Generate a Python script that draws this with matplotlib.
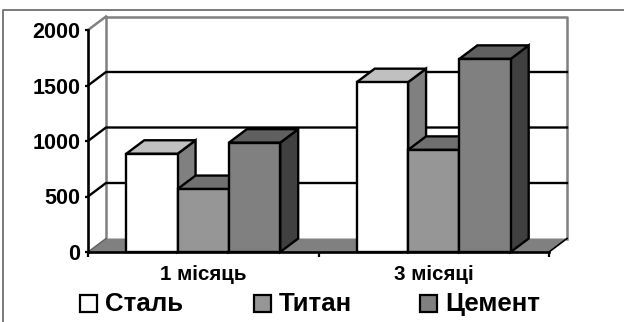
import matplotlib
matplotlib.use('Agg')
import matplotlib.pyplot as plt
from matplotlib.patches import Rectangle

plt.rcParams['font.family'] = ['Liberation Sans', 'DejaVu Sans']
plt.rcParams['font.weight'] = 'bold'

categories = ['1 місяць', '3 місяці']
series = ['Сталь', 'Титан', 'Цемент']
stal = [885, 1530]
titan = [567, 920]
cement = [985, 1740]
y_ticks = [0, 500, 1000, 1500, 2000]

front = ['#ffffff', '#969696', '#808080']
top = ['#c0c0c0', '#707070', '#606060']
side = ['#808080', '#606060', '#404040']

W, H = 624, 322
fig = plt.figure(figsize=(W / 100, H / 100), dpi=100)
ax = fig.add_axes([88 / W, 1 - 252 / H, 461 / W, 222 / H])
ax.set_xlim(0, len(categories))
ax.set_ylim(0, 2000)
ax.patch.set_visible(False)
for s in ax.spines.values():
    s.set_visible(False)

# depth of the fake 3d box, in data units
dx = 18 / 461 * 2
dy = 13.5 / 222 * 2000
bar_w = 0.2226
lw = 1.7

# floor and walls
ax.fill([0, 2, 2 + dx, dx], [0, 0, dy, dy], color='#808080', lw=0, zorder=1, clip_on=False)
ax.plot([dx, dx], [dy, 2000 + dy], color='#808080', lw=1.8, zorder=1, clip_on=False)
ax.plot([dx, 2 + dx, 2 + dx], [2000 + dy, 2000 + dy, dy], color='#808080', lw=1.8, zorder=1, clip_on=False)
ax.plot([0, dx], [2000, 2000 + dy], color='#808080', lw=1.8, zorder=1, clip_on=False)
ax.plot([0, dx], [0, dy], color='#606060', lw=1, zorder=1, clip_on=False)
ax.plot([2, 2 + dx], [0, dy], color='black', lw=1.2, zorder=1, clip_on=False)

# gridlines go along the side wall and then the back wall
for v in y_ticks[1:-1]:
    ax.plot([0, dx, 2 + dx], [v, v + dy, v + dy], color='black', lw=lw, zorder=2, clip_on=False)

z = 3
for i, cat in enumerate(categories):
    for j, vals in enumerate([stal, titan, cement]):
        x0 = i + 0.166 + j * bar_w
        x1 = x0 + bar_w
        v = vals[i]
        ax.fill([x1, x1 + dx, x1 + dx, x1], [0, dy, v + dy, v], facecolor=side[j],
                edgecolor='black', lw=lw, zorder=z, clip_on=False)
        ax.fill([x0, x1, x1 + dx, x0 + dx], [v, v, v + dy, v + dy], facecolor=top[j],
                edgecolor='black', lw=lw, zorder=z, clip_on=False)
        ax.bar(x0, v, width=bar_w, align='edge', color=front[j], edgecolor='black',
               linewidth=lw, zorder=z, clip_on=False)
        z += 1

ax.plot([0, 0], [0, 2000], color='black', lw=1.9, zorder=z, clip_on=False)
ax.plot([0, 2], [0, 0], color='black', lw=1.9, zorder=z, clip_on=False)

ax.set_yticks(y_ticks)
ax.set_xticks([0, 1, 2])
ax.set_xticklabels([])
ax.tick_params(axis='y', length=2.5, width=1.6, labelsize=15.5, pad=3)
ax.tick_params(axis='x', length=3.5, width=1.6)
for lab in ax.get_yticklabels():
    lab.set_fontweight('bold')
for i, cat in enumerate(categories):
    fig.text((88 + (i + 0.5) * 230.5) / W, 1 - 275 / H, cat, ha='center', va='center', fontsize=14.8)

# outer chart border, only top and left show in the picture
fig.add_artist(plt.Line2D([3 / W, 3 / W, 1], [0, 1 - 10 / H, 1 - 10 / H], color='#707070', lw=1.3))

# legend
swatch_x = [80, 254, 420]
text_x = [105, 279, 445]
for name, color, sx, tx in zip(series, front, swatch_x, text_x):
    fig.add_artist(Rectangle((sx / W, 1 - 312 / H), 17 / W, 17 / H, facecolor=color, edgecolor='black',
                             lw=1.6, transform=fig.transFigure))
    fig.text(tx / W, 1 - 304 / H, name, ha='left', va='center', fontsize=18.6)

fig.savefig('out.png', dpi=100)
